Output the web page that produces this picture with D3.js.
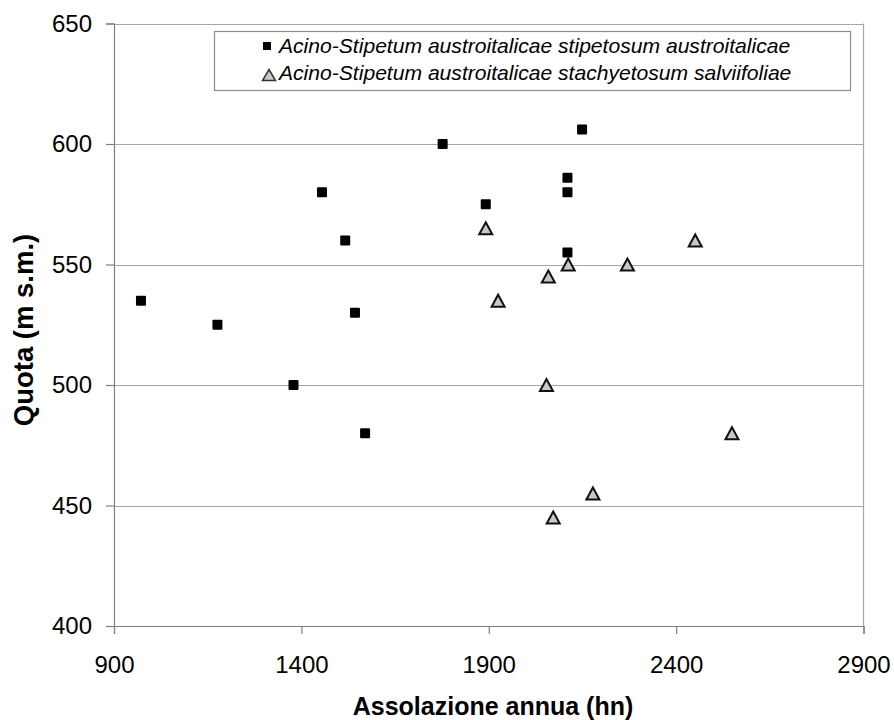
<!DOCTYPE html>
<html>
<head>
<meta charset="utf-8">
<script src="https://cdn.jsdelivr.net/npm/d3@7"></script>
<style>
  html, body { margin: 0; padding: 0; background: #fff; }
  svg { display: block; font-family: "Liberation Sans", Arial, sans-serif; }
</style>
</head>
<body>
<svg id="chart" width="894" height="720"></svg>
<script>
// ---- data ----
const seriesNames = [
  "Acino-Stipetum austroitalicae stipetosum austroitalicae",
  "Acino-Stipetum austroitalicae stachyetosum salviifoliae"
];
const stipX = [972, 1176, 1379, 1455, 1517, 1543, 1570, 1777, 1892, 2110, 2110, 2110, 2149];
const stipY = [535, 525, 500, 580, 560, 530, 480, 600, 575, 586, 580, 555, 606];
const stachX = [1892, 1925, 2054, 2059, 2072, 2112, 2178, 2270, 2451, 2549];
const stachY = [565, 535, 500, 545, 445, 550, 455, 550, 560, 480];
const xTicks = [900, 1400, 1900, 2400, 2900];
const yTicks = [400, 450, 500, 550, 600, 650];
const xTitle = "Assolazione annua (hn)";
const yTitle = "Quota (m s.m.)";

// ---- layout ----
const svg = d3.select("#chart");
const pLeft = 114, pRight = 863.5, pTop = 23.5, pBottom = 626;
const x = d3.scaleLinear().domain([900, 2900]).range([pLeft, pRight]);
const y = d3.scaleLinear().domain([400, 650]).range([pBottom, pTop]);

// gridlines
svg.append("g").selectAll("line").data(yTicks.filter(d => d > 400)).join("line")
  .attr("x1", pLeft).attr("x2", pRight)
  .attr("y1", d => Math.round(y(d)) + 0.5).attr("y2", d => Math.round(y(d)) + 0.5)
  .attr("stroke", "#a6a6a6").attr("stroke-width", 1.2);

// plot border (right)
svg.append("line").attr("x1", pRight).attr("x2", pRight).attr("y1", pTop).attr("y2", pBottom)
  .attr("stroke", "#a6a6a6").attr("stroke-width", 1.2);

// axes
const xAxis = d3.axisBottom(x).tickValues(xTicks).tickSize(8).tickPadding(22).tickFormat(d3.format("d"));
const yAxis = d3.axisLeft(y).tickValues(yTicks).tickSize(8).tickPadding(14).tickFormat(d3.format("d"));

const gx = svg.append("g").attr("transform", `translate(0,${pBottom})`).call(xAxis);
const gy = svg.append("g").attr("transform", `translate(${pLeft},0)`).call(yAxis);
[gx, gy].forEach(g => {
  g.select(".domain").attr("stroke", "#808080").attr("stroke-width", 1.2);
  g.selectAll(".tick line").attr("stroke", "#808080").attr("stroke-width", 1.2);
  g.selectAll(".tick text").attr("font-size", 24).attr("fill", "#000")
    .attr("font-family", "'Liberation Sans', Arial, sans-serif");
});

// titles
svg.append("text").attr("x", 493).attr("y", 715).attr("text-anchor", "middle")
  .attr("font-size", 25).attr("font-weight", "bold").text(xTitle);
svg.append("text").attr("transform", `translate(33,330) rotate(-90)`).attr("text-anchor", "middle")
  .attr("font-size", 27.5).attr("font-weight", "bold").text(yTitle);

// marker shapes
const sq = 10;
const triPath = (w, h) => `M0,${-h/2}L${w/2},${h/2}L${-w/2},${h/2}Z`;

const stip = stipX.map((v, i) => ({ x: v, y: stipY[i] }));
const stach = stachX.map((v, i) => ({ x: v, y: stachY[i] }));

svg.append("g").selectAll("rect").data(stip).join("rect")
  .attr("x", d => x(d.x) - sq/2).attr("y", d => y(d.y) - sq/2)
  .attr("width", sq).attr("height", sq).attr("rx", 1)
  .attr("fill", "#000");

svg.append("g").selectAll("path").data(stach).join("path")
  .attr("transform", d => `translate(${x(d.x)},${y(d.y)})`)
  .attr("d", triPath(13, 12))
  .attr("fill", "#c8c8c8").attr("stroke", "#111").attr("stroke-width", 2)
  .attr("stroke-linejoin", "miter");

// legend
const lg = svg.append("g");
lg.append("rect").attr("x", 214.5).attr("y", 31.5).attr("width", 636).attr("height", 59)
  .attr("fill", "#fff").attr("stroke", "#8c8c8c").attr("stroke-width", 1.2);
lg.append("rect").attr("x", 263).attr("y", 42).attr("width", 8).attr("height", 8).attr("fill", "#000");
lg.append("path").attr("transform", "translate(269,75)").attr("d", triPath(13, 11))
  .attr("fill", "#c8c8c8").attr("stroke", "#333").attr("stroke-width", 1.5);
lg.selectAll("text").data(seriesNames).join("text")
  .attr("x", 279).attr("y", (d, i) => 53 + i * 27)
  .attr("font-size", 21.1).attr("font-style", "italic").text(d => d);
</script>
</body>
</html>
